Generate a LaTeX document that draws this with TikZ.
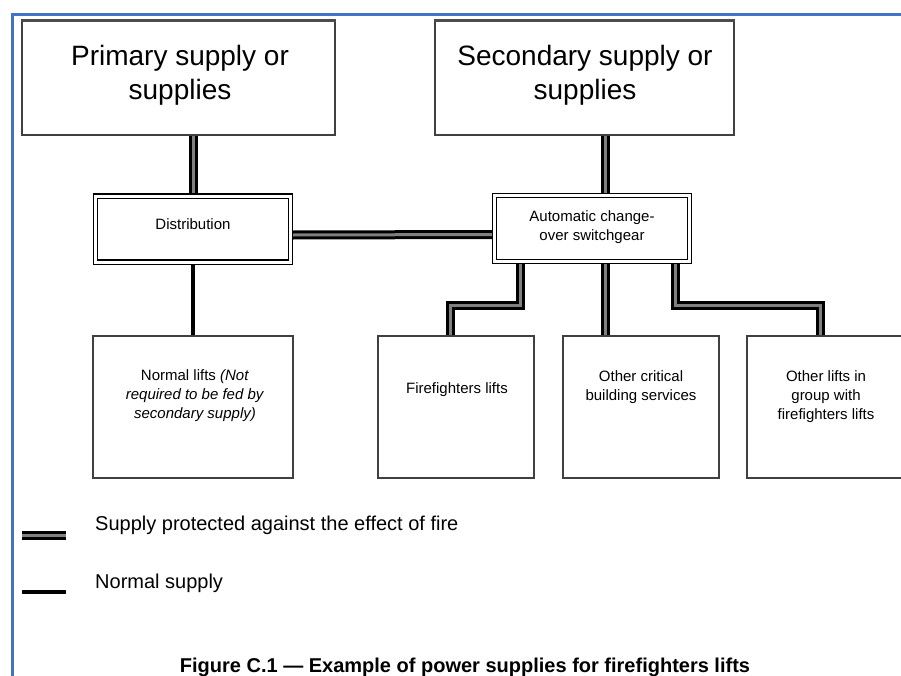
\documentclass[tikz,border=0pt]{standalone}
\usepackage{fontspec}
\setmainfont{Liberation Sans}
\usetikzlibrary{backgrounds}
\definecolor{frameblue}{HTML}{4472C4}
\begin{document}
\begin{tikzpicture}[x=1pt,y=-1pt,
  box/.style={draw=black!75, line width=1.1pt, fill=white, inner sep=0pt, minimum height=142pt},
  bigbox/.style={draw=black!75, line width=1.1pt, fill=white, inner sep=0pt, minimum height=114pt},
  dbox/.style={draw=black, double=white, double distance=3pt, line width=1.3pt, fill=white, inner sep=0pt, minimum width=195pt, minimum height=66pt},
  prot/.style={draw=black, double=black!50, double distance=3pt, line width=3pt},
  normal/.style={draw=black, line width=3.5pt},
  small/.style={font=\fontsize{15}{19}\selectfont, align=center, inner sep=0pt},
  big/.style={font=\fontsize{28}{34}\selectfont, align=center, inner sep=0pt},
  legend/.style={font=\fontsize{20}{24}\selectfont, anchor=west, inner sep=0pt},
]
\useasboundingbox (0,0) rectangle (901,675);
\clip (0,0) rectangle (901,675);
\draw[frameblue, line width=3pt] (12,680) -- (12,14) -- (905,14);

% top boxes
\node[bigbox, minimum width=313pt] (prim) at (178.5,78) {};
\draw[black!70, line width=2.5pt] (prim.north west) -- (prim.north east);
\node[big] (primt) at (180,75) {Primary supply or\\supplies};
\node[bigbox, minimum width=299pt] (sec) at (584.5,78) {};
\draw[black!70, line width=2.5pt] (sec.north west) -- (sec.north east);
\node[big] (sect) at (585,75) {Secondary supply or\\supplies};

% middle boxes
\node[dbox] (dist) at (193,229) {};
\node[small] (distt) at (193,224) {Distribution};
\node[dbox] (acos) at (592,228.5) {};
\node[small] (acost) at (592,227.5) {Automatic change-\\over switchgear};

% lower boxes
\node[box, minimum width=200pt] (nl) at (193,407) {};
\node[small] (nlt) at (195,396) {Normal lifts \textit{(Not}\\\textit{required to be fed by}\\\textit{secondary supply)}};
\node[box, minimum width=156pt] (ff) at (456,407) {};
\node[small] (fft) at (457,390) {Firefighters lifts};
\node[box, minimum width=156pt] (oc) at (641,407) {};
\node[small] (oct) at (641,387.5) {Other critical\\building services};
\node[box, minimum width=158pt] (ol) at (826,407) {};
\node[small] (olt) at (826,397) {Other lifts in\\group with\\firefighters lifts};

% connectors
\begin{pgfonlayer}{background}
\draw[prot] (dist.north |- prim.south) -- (dist.north);
\draw[prot] ([xshift=13pt]acos.north |- sec.south) -- ([xshift=13pt]acos.north);
\draw[prot] ([yshift=-6pt]dist.east) -- ([yshift=-6pt]acos.west);
\coordinate (bl) at (450,305);
\coordinate (br) at (820,305);
\draw[prot] ([xshift=-72pt]acos.south) |- (bl) -- (bl |- ff.north);
\draw[prot] ([xshift=13pt]acos.south) -- ([xshift=13pt]acos.south |- oc.north);
\draw[prot] ([xshift=83pt]acos.south) |- (br) -- (br |- ol.north);
\draw[normal] (dist.south) -- (nl.north);
\end{pgfonlayer}

% legend
\coordinate (l1a) at (22,535);
\coordinate (l1b) at (66,535);
\draw[prot] (l1a) -- (l1b);
\node[legend] (l1t) at (95,525) {Supply protected against the effect of fire};
\coordinate (l2a) at (22,592);
\coordinate (l2b) at (66,592);
\draw[normal] (l2a) -- (l2b);
\node[legend] (l2t) at (95,583) {Normal supply};

\node[font=\bfseries\fontsize{20}{24}\selectfont, inner sep=0pt] (cap) at (465,667) {Figure C.1 — Example of power supplies for firefighters lifts};
\end{tikzpicture}
\end{document}
